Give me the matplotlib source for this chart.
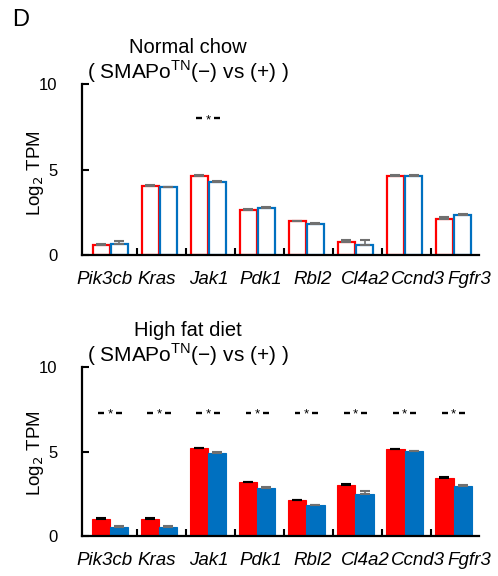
import numpy as np
import matplotlib
matplotlib.use('Agg')
import matplotlib.pyplot as plt

plt.rcParams['font.family'] = ['Liberation Sans', 'DejaVu Sans']

# ===== data =====
genes = ['Pik3cb', 'Kras', 'Jak1', 'Pdk1', 'Rbl2', 'Cl4a2', 'Ccnd3', 'Fgfr3']

# normal chow
nc_neg = [0.62, 4.03, 4.64, 2.65, 1.97, 0.78, 4.64, 2.14]
nc_neg_err = [0.05, 0.05, 0.05, 0.03, 0.05, 0.08, 0.03, 0.08]
nc_pos = [0.66, 3.96, 4.27, 2.77, 1.81, 0.57, 4.64, 2.34]
nc_pos_err = [0.15, 0.05, 0.05, 0.05, 0.07, 0.30, 0.03, 0.07]
nc_sig = [False, False, True, False, False, False, False, False]

# high fat diet
hf_neg = [1.03, 1.03, 5.21, 3.19, 2.12, 3.01, 5.15, 3.45]
hf_neg_err = [0.05, 0.05, 0.03, 0.03, 0.03, 0.05, 0.02, 0.05]
hf_pos = [0.53, 0.53, 4.91, 2.87, 1.84, 2.48, 5.01, 2.97]
hf_pos_err = [0.08, 0.08, 0.04, 0.06, 0.03, 0.17, 0.02, 0.08]
hf_sig = [True] * 8

RED = '#FF0000'
BLUE = '#0070C0'
GREY = '#707070'

fig = plt.figure(figsize=(4.98, 5.76), dpi=100)
fig.text(0.025, 0.965, 'D', fontsize=17, va='center', ha='left')


def panel(rect, title, neg, neg_err, pos, pos_err, sig, filled, sig_y, title_y, ylab_y):
    ax = fig.add_axes(rect)
    x = np.arange(len(genes))
    w = 0.37
    if filled:
        ax.bar(x - w / 2, neg, w, color=RED, edgecolor=RED, linewidth=0.8)
        ax.bar(x + w / 2, pos, w, color=BLUE, edgecolor=BLUE, linewidth=0.8)
        ecol_neg = 'black'
    else:
        ax.bar(x - w / 2, neg, w * 0.94, color='white', edgecolor=RED, linewidth=1.6)
        ax.bar(x + w / 2, pos, w * 0.94, color='white', edgecolor=BLUE, linewidth=1.6)
        ecol_neg = GREY
    ax.errorbar(x - w / 2, neg, yerr=[np.zeros(len(neg)), neg_err], fmt='none',
                ecolor=ecol_neg, elinewidth=1.2, capsize=3.5, capthick=1.5)
    ax.errorbar(x + w / 2, pos, yerr=[np.zeros(len(pos)), pos_err], fmt='none',
                ecolor=GREY, elinewidth=1.2, capsize=3.5, capthick=1.5)
    # significance: dash * dash
    for i, s in enumerate(sig):
        if s:
            for side in (-1, 1):
                ax.plot([i + side * 0.12, i + side * 0.24], [sig_y, sig_y], color='black',
                        lw=1.7, solid_capstyle='butt')
            ax.text(i, sig_y - 0.13, '*', ha='center', va='center', fontsize=9.5)
    ax.set_xlim(-0.57, 7.52)
    ax.set_ylim(0, 10)
    ax.set_yticks([0, 5, 10])
    ax.set_yticklabels(['0', '5', '10'], fontsize=12)
    ax.set_xticks(np.arange(0.55, 7.5, 1.0))
    ax.set_xticklabels([])
    ax.tick_params(axis='x', direction='in', length=5, width=1.5)
    ax.tick_params(axis='y', direction='in', length=5, width=1.5, pad=18)
    # gene names are spread a little wider than the bars
    lab_x = np.linspace(-0.12, 7.33, len(genes))
    for lx, g in zip(lab_x, genes):
        ax.text(lx, -1.45, g, ha='center', va='center', fontsize=13.5, style='italic')
    ax.spines['top'].set_visible(False)
    ax.spines['right'].set_visible(False)
    ax.spines['left'].set_linewidth(1.6)
    ax.spines['bottom'].set_linewidth(1.6)
    fig.text(0.072, ylab_y, 'Log$_2$ TPM', fontsize=13.5, rotation=90,
             ha='center', va='center')
    fig.text(0.378, title_y, title, ha='center', va='center', fontsize=14.5)
    fig.text(0.378, title_y - 0.043, '( SMAPo$^{\\mathregular{TN}}$(\u2212) vs (+) )',
             ha='center', va='center', fontsize=15)
    return ax


panel([0.165, 0.557, 0.797, 0.297], 'Normal chow', nc_neg, nc_neg_err, nc_pos, nc_pos_err,
      nc_sig, False, 8.0, 0.918, 0.70)
panel([0.165, 0.069, 0.797, 0.294], 'High fat diet', hf_neg, hf_neg_err, hf_pos, hf_pos_err,
      hf_sig, True, 7.3, 0.427, 0.213)

plt.savefig('out.png', dpi=100)
